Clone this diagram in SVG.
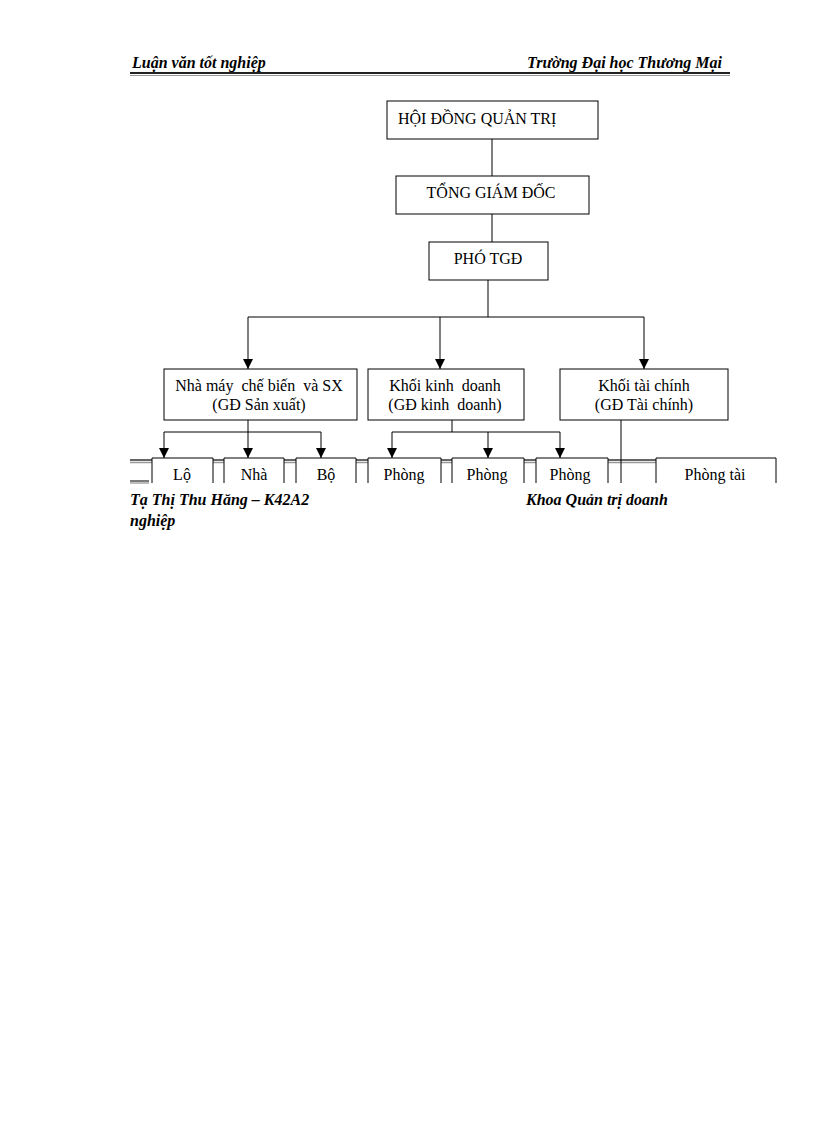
<svg xmlns="http://www.w3.org/2000/svg" width="816" height="1123" viewBox="0 0 816 1123">
<style>
.bx{fill:#fff;stroke:#000;stroke-width:1}
.t{font-family:"Liberation Serif","Times New Roman",serif;font-size:16px;fill:#000;text-anchor:middle;white-space:pre}
.hd{font-family:"Liberation Serif","Times New Roman",serif;font-size:16px;font-weight:bold;font-style:italic;fill:#000}
.ln{stroke:#000;stroke-width:1;fill:none}
.dl1{stroke:#333;stroke-width:1.3}
.dl2{stroke:#999;stroke-width:1.3}
</style>
<defs>
<marker id="ar" viewBox="0 0 10 10" refX="10" refY="5" markerWidth="10" markerHeight="10" markerUnits="userSpaceOnUse" orient="auto">
<path d="M0,0 L10,5 L0,10 Z" fill="#000"/>
</marker>
</defs>
<rect width="816" height="1123" fill="#fff"/>
<g id="header">
<text class="hd" x="132" y="68">Luận văn tốt nghiệp</text>
<text class="hd" x="722" y="68" text-anchor="end">Trường Đại học Thương Mại</text>
<line x1="130" y1="73" x2="730" y2="73" stroke="#222" stroke-width="2"/>
<line x1="130" y1="75.5" x2="730" y2="75.5" stroke="#999" stroke-width="1.2"/>
</g>
<g id="footer">
<text class="hd" x="130" y="505">Tạ Thị Thu Hằng – K42A2</text>
<text class="hd" x="130" y="526">nghiệp</text>
<text class="hd" x="526" y="505">Khoa Quản trị doanh</text>
</g>
<g id="connectors">
<line class="ln" x1="492" y1="139" x2="492" y2="176"/>
<line class="ln" x1="492" y1="214" x2="492" y2="242"/>
<polyline class="ln" points="488,280 488,317"/>
<line class="ln" x1="248" y1="317" x2="644" y2="317"/>
<line class="ln" x1="248" y1="317" x2="248" y2="369" marker-end="url(#ar)"/>
<line class="ln" x1="440" y1="317" x2="440" y2="369" marker-end="url(#ar)"/>
<line class="ln" x1="644" y1="317" x2="644" y2="369" marker-end="url(#ar)"/>
<line class="ln" x1="248" y1="420" x2="248" y2="432"/>
<line class="ln" x1="164" y1="432" x2="321" y2="432"/>
<line class="ln" x1="164" y1="432" x2="164" y2="458" marker-end="url(#ar)"/>
<line class="ln" x1="248" y1="432" x2="248" y2="458" marker-end="url(#ar)"/>
<line class="ln" x1="321" y1="432" x2="321" y2="458" marker-end="url(#ar)"/>
<line class="ln" x1="452" y1="420" x2="452" y2="432"/>
<line class="ln" x1="392" y1="432" x2="560" y2="432"/>
<line class="ln" x1="392" y1="432" x2="392" y2="458" marker-end="url(#ar)"/>
<line class="ln" x1="488" y1="432" x2="488" y2="458" marker-end="url(#ar)"/>
<line class="ln" x1="560" y1="432" x2="560" y2="458" marker-end="url(#ar)"/>
</g>
<g id="rule">
<line class="dl1" x1="130" y1="460" x2="776" y2="460"/>
<line class="dl2" x1="130" y1="462.5" x2="776" y2="462.5"/>
<line class="dl1" x1="130" y1="481" x2="149" y2="481"/>
<line class="dl2" x1="130" y1="483" x2="149" y2="483"/>
</g>
<g id="hdqt"><rect class="bx" x="387" y="101" width="211" height="38"/><text class="t" x="398" y="124" style="text-anchor:start">HỘI ĐỒNG QUẢN TRỊ</text></g>
<g id="tgd"><rect class="bx" x="396" y="176" width="193" height="38"/><text class="t" x="491" y="198">TỔNG GIÁM ĐỐC</text></g>
<g id="ptgd"><rect class="bx" x="429" y="242" width="119" height="38"/><text class="t" x="488" y="264">PHÓ TGĐ</text></g>
<g id="nhamay"><rect class="bx" x="164" y="369" width="193" height="51"/><text class="t" x="259" y="391" xml:space="preserve">Nhà máy  chế biến  và SX</text><text class="t" x="259" y="410">(GĐ Sản xuất)</text></g>
<g id="kinhdoanh"><rect class="bx" x="368" y="369" width="156" height="51"/><text class="t" x="445" y="391" xml:space="preserve">Khối kinh  doanh</text><text class="t" x="445" y="410" xml:space="preserve">(GĐ kinh  doanh)</text></g>
<g id="taichinh"><rect class="bx" x="560" y="369" width="168" height="51"/><text class="t" x="644" y="391">Khối tài chính</text><text class="t" x="644" y="410">(GĐ Tài chính)</text></g>
<g id="row3">
<path class="bx" d="M152,483 V458 H213 V483"/><text class="t" x="182" y="480">Lộ</text>
<path class="bx" d="M224,483 V458 H284 V483"/><text class="t" x="254" y="480">Nhà</text>
<path class="bx" d="M296,483 V458 H356 V483"/><text class="t" x="326" y="480">Bộ</text>
<path class="bx" d="M368,483 V458 H441 V483"/><text class="t" x="404" y="480">Phòng</text>
<path class="bx" d="M452,483 V458 H524 V483"/><text class="t" x="487" y="480">Phòng</text>
<path class="bx" d="M536,483 V458 H608 V483"/><text class="t" x="570" y="480">Phòng</text>
<path class="bx" d="M656,483 V458 H776 V483"/><text class="t" x="715" y="480">Phòng tài</text>
<rect x="130" y="484" width="660" height="10" fill="#fff"/>
<line class="ln" x1="621" y1="420" x2="621" y2="483"/>
</g>
</svg>
